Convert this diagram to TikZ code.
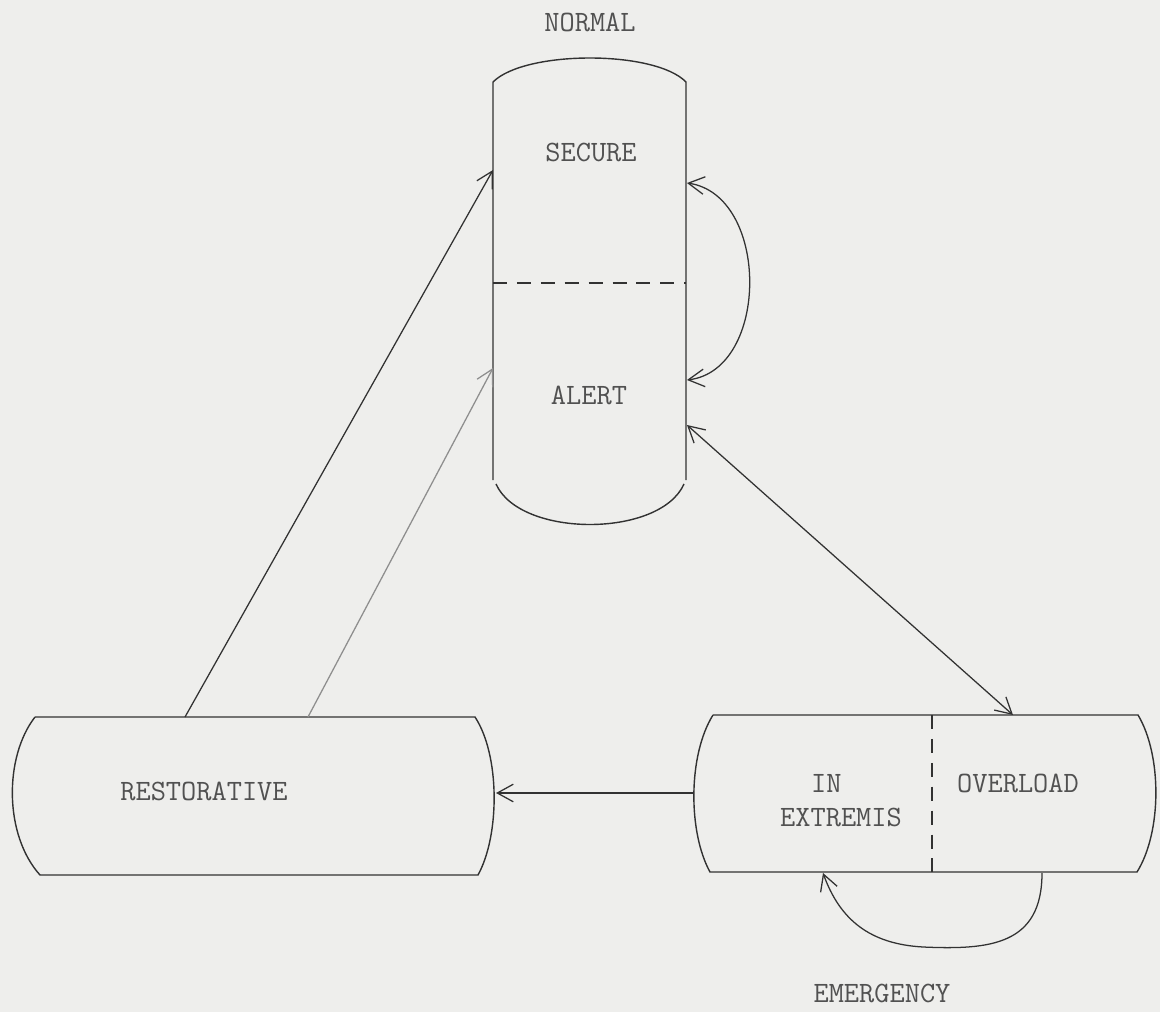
\documentclass[tikz,border=0pt]{standalone}
\usepackage{fontspec}
\usepackage{tikz}
\usetikzlibrary{arrows.meta}
\definecolor{paper}{RGB}{238,238,236}
\definecolor{ink}{RGB}{50,50,50}

\begin{document}
\begin{tikzpicture}[%
      x=0.025cm, y=-0.025cm,
      >={Straight Barb[length=4mm,width=4.4mm]},
      every node/.style={font=\fontsize{21}{24}\selectfont\ttfamily\addfontfeatures{FakeBold=1.2}, text=ink!85},
      box/.style={color=ink, line width=1pt},
      divider/.style={color=ink, line width=1pt, dash pattern=on 10pt off 7pt},
      link/.style={color=ink, line width=0.9pt},
      ]
      \fill [paper] (0,0) rectangle (1160,1012);
      \useasboundingbox (0,0) rectangle (1160,1012);

      % normal state
      \draw [box] (493,480) -- (493,82) .. controls (525,50) and (655,50) .. (686,82) -- (686,480);
      \draw [box] (496,484) .. controls (520,538) and (660,538) .. (684,484);
      \draw [divider] (493,283) -- (686,283);

      % restorative state
      \draw [box] (35,717) -- (475,717) .. controls (500,755) and (500,835) .. (478,875)
            -- (40,875) .. controls (4,835) and (4,757) .. (35,717);

      % emergency state
      \draw [box] (713,715) -- (1138,715) .. controls (1162,755) and (1162,832) .. (1137,872)
            -- (710,872) .. controls (688,832) and (688,755) .. (713,715);
      \draw [divider] (932,715) -- (932,872);

      \coordinate (secin) at (493,170);
      \coordinate (alertin) at (493,368);
      \coordinate (looptop) at (687,183);
      \coordinate (loopbot) at (687,380);
      \coordinate (normout) at (687,425);
      \coordinate (restone) at (185,717);
      \coordinate (resttwo) at (308,717);
      \coordinate (restin) at (496,793);
      \coordinate (emout) at (693,793);
      \coordinate (emin) at (1013,715);
      \coordinate (emloopa) at (1042,873);
      \coordinate (emloopb) at (823,873);

      \node (normal) at (590,22) {NORMAL};
      \node (secure) at (591,152) {SECURE};
      \node (alert) at (589,395) {ALERT};
      \node (restorative) at (204,791) {RESTORATIVE};
      \node [align=left] (extremis) at (841,801) {\hspace*{1.05em}IN\\EXTREMIS};
      \node (overload) at (1018,783) {OVERLOAD};
      \node (emergency) at (882,993) {EMERGENCY};

      \draw [link,->] (restone) -- (secin);
      \draw [link,->,color=ink!55] (resttwo) -- (alertin);
      \draw [link,<->] (looptop) .. controls (770,195) and (770,370) .. (loopbot);
      \draw [link,<->] (normout) -- (emin);
      \draw [link,->] (emout) -- (restin);
      \draw [link,->] (emloopa) .. controls (1042,945) and (990,950) .. (923,947)
            .. controls (870,944) and (840,920) .. (emloopb);
\end{tikzpicture}
\end{document}
